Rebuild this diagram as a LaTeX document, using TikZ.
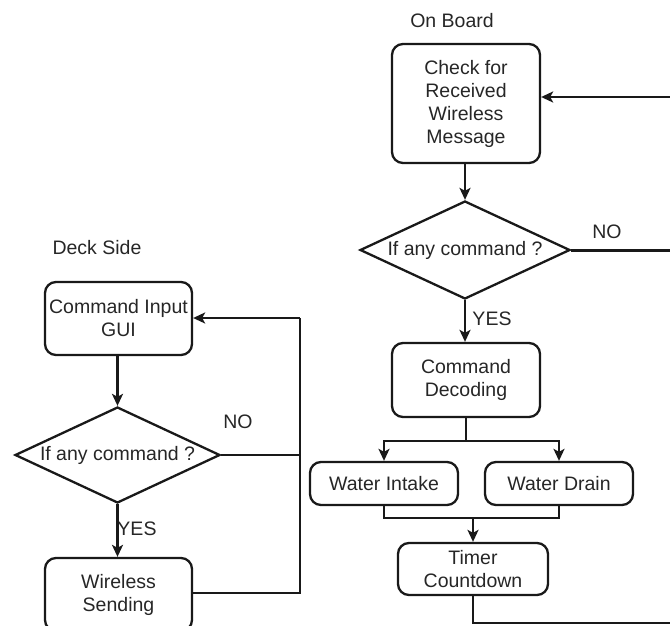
\documentclass[tikz,border=0pt]{standalone}
\usepackage{fontspec}
\setmainfont{Liberation Sans}
\usetikzlibrary{shapes.geometric,arrows.meta}
\begin{document}
\begin{tikzpicture}[x=1pt,y=-1pt,
  font=\fontsize{19.5}{23}\selectfont,
  every node/.style={text=black!85},
  box/.style={draw=black!90, line width=2.3pt, rounded corners=11pt, align=center, inner sep=0pt},
  dec/.style={draw=black!90, line width=2.3pt, shape=diamond, aspect=2.14, inner sep=0pt, align=center},
  conn/.style={draw=black!90, line width=2.3pt},
  arr/.style={conn, -{Stealth[length=12pt,width=11pt,inset=3pt]}},
  lbl/.style={inner sep=0pt}]
\useasboundingbox (0,0) rectangle (670,625);
% ---- On Board ----
\node[lbl] (ob) at (452,21) {On Board};
\node[box, minimum width=148pt, minimum height=119pt] (check) at (466,103.5) {Check for\\Received\\Wireless\\Message};
\node[dec, minimum width=210pt, minimum height=98pt] (d1) at (465,250) {If any command ?};
\node[box, minimum width=148pt, minimum height=74pt] (decode) at (466,380) {Command\\Decoding};
\node[box, minimum width=148pt, minimum height=43pt] (intake) at (384,483.5) {Water Intake};
\node[box, minimum width=148pt, minimum height=43pt] (drain) at (559,483.5) {Water Drain};
\node[box, minimum width=150pt, minimum height=52pt] (timer) at (473,569) {Timer\\Countdown};
\node[lbl] (no1) at (607,232) {NO};
\node[lbl] (yes1) at (492,319) {YES};
\coordinate (r1) at (674,97);
\coordinate (r2) at (674,250);
\coordinate (r3) at (674,623);
\coordinate (sp) at (466,441);
\coordinate (mg) at (473,518);
\draw[arr] (check.south -| d1.north) -- (d1.north);
\draw[arr] (d1.south) -- (d1.south |- decode.north);
\draw[conn, line width=3pt] (d1.east) -- (r2);
\draw[arr] (r1) -- (check.east |- r1);
\draw[conn] (decode.south) -- (sp);
\draw[arr] (sp) -| (intake.north);
\draw[arr] (sp) -| (drain.north);
\draw[conn] (intake.south) |- (mg) -| (drain.south);
\draw[arr] (mg) -- (timer.north);
\draw[conn] (timer.south) |- (r3) -- (r1);
% ---- Deck Side ----
\node[lbl] (ds) at (97,248) {Deck Side};
\node[box, minimum width=147pt, minimum height=73pt] (gui) at (118.5,318.5) {Command Input\\GUI};
\node[dec, minimum width=205pt, minimum height=96pt] (d2) at (117.5,455) {If any command ?};
\node[box, minimum width=147pt, minimum height=73pt] (send) at (118.5,594.5) {Wireless\\Sending};
\node[lbl] (no2) at (238,422) {NO};
\node[lbl] (yes2) at (137,529) {YES};
\coordinate (l1) at (300,318);
\coordinate (l2) at (300,455);
\coordinate (l3) at (300,593);
\draw[arr] (gui.south -| d2.north) -- (d2.north);
\draw[arr] (d2.south) -- (d2.south |- send.north);
\draw[conn, line width=1.6pt] (d2.east) -- (l2);
\draw[conn] (send.east |- l3) -- (l3) -- (l1);
\draw[arr] (l1) -- (gui.east |- l1);
\end{tikzpicture}
\end{document}
